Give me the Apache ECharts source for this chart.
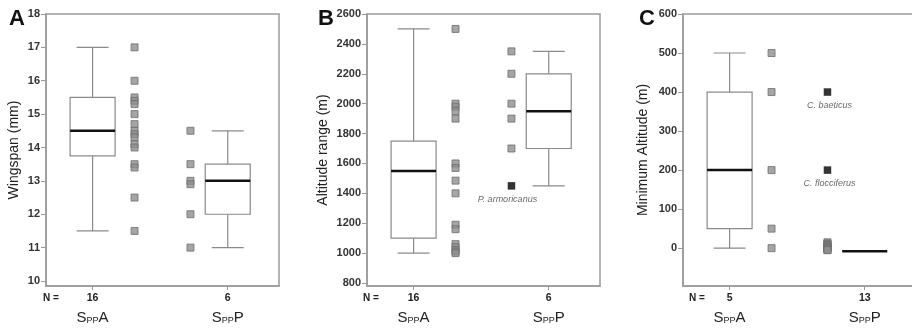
<!DOCTYPE html>
<html>
<head>
<meta charset="utf-8">
<script src="https://cdn.jsdelivr.net/npm/echarts@6/dist/echarts.min.js"></script>
<style>
  html, body { margin: 0; padding: 0; background: #fff; overflow: hidden; }
  #chart { width: 912px; height: 333px; }
</style>
</head>
<body>
<div id="chart"></div>
<script>
// group names (S_PP A / S_PP P)
const groups = ['A', 'P'];

// Panel A - wingspan (mm)
const wingN = ['16', '6'];
const wingBoxA = [11.5, 13.75, 14.5, 15.5, 17];
const wingBoxP = [11, 12, 13, 13.5, 14.5];
const wingPtsA = [17, 16, 15.5, 15.4, 15.3, 15, 14.7, 14.5, 14.4, 14.3, 14.1, 14, 13.5, 13.4, 12.5, 11.5];
const wingPtsP = [14.5, 13.5, 13, 12.9, 12, 11];
const wingTicks = [10, 11, 12, 13, 14, 15, 16, 17, 18];

// Panel B - altitude range (m)
const rangeN = ['16', '6'];
const rangeBoxA = [1000, 1100, 1550, 1750, 2500];
const rangeBoxP = [1450, 1700, 1950, 2200, 2350];
const rangePtsA = [2500, 2000, 1980, 1950, 1900, 1600, 1570, 1485, 1400, 1190, 1160, 1060, 1040, 1020, 1010, 1000];
const rangePtsP = [2350, 2200, 2000, 1900, 1700];
const rangeOutNames = ['P. armoricanus'];
const rangeOutValues = [1450];
const rangeTicks = [800, 1000, 1200, 1400, 1600, 1800, 2000, 2200, 2400, 2600];

// Panel C - minimum altitude (m)
const minN = ['5', '13'];
const minBoxA = [0, 50, 200, 400, 500];
const minBoxP = [-8, -8, -8, -8, -8];
const minPtsA = [500, 400, 200, 50, 0];
const minPtsP = [15, 12, 10, 8, 5, 3, 0, 0, -3, -5, -5];
const minOutNames = ['C. baeticus', 'C. flocciferus'];
const minOutValues = [400, 200];
const minTicks = [0, 100, 200, 300, 400, 500, 600];

// column positions along each x axis (0..100)
const X = { boxA: 20, ptsA: 38, ptsP: 62, boxP: 78 };

const FONT = 'Liberation Sans, Arial, Helvetica, sans-serif';
const GREY = '#8a8a8a';
const AXIS = '#9a9a9a';

const chart = echarts.init(document.getElementById('chart'));

function renderBox(params, api) {
  const x = api.value(0);
  const p = [1, 2, 3, 4, 5].map((i) => api.coord([x, api.value(i)]));
  const cx = p[0][0];
  const half = 22.5;
  const cap = 16;
  const line = { stroke: GREY, lineWidth: 1.2 };
  return {
    type: 'group',
    children: [
      { type: 'line', shape: { x1: cx, y1: p[0][1], x2: cx, y2: p[1][1] }, style: line },
      { type: 'line', shape: { x1: cx, y1: p[3][1], x2: cx, y2: p[4][1] }, style: line },
      { type: 'line', shape: { x1: cx - cap, y1: p[0][1], x2: cx + cap, y2: p[0][1] }, style: line },
      { type: 'line', shape: { x1: cx - cap, y1: p[4][1], x2: cx + cap, y2: p[4][1] }, style: line },
      {
        type: 'rect',
        shape: { x: cx - half, y: p[3][1], width: half * 2, height: p[1][1] - p[3][1] },
        style: { fill: '#fff', stroke: GREY, lineWidth: 1.2 },
      },
      { type: 'line', shape: { x1: cx - half, y1: p[2][1], x2: cx + half, y2: p[2][1] }, style: { stroke: '#111', lineWidth: 2.5 } },
    ],
  };
}

function xAxisFor(idx, nLabels) {
  return {
    type: 'value',
    gridIndex: idx,
    min: 0,
    max: 100,
    splitLine: { show: false },
    axisLine: { show: true, onZero: false, lineStyle: { color: AXIS, width: 1.5 } },
    axisTick: { show: true, customValues: [X.boxA, X.boxP], length: 4, lineStyle: { color: AXIS } },
    axisLabel: {
      customValues: [X.boxA, X.boxP],
      margin: 5,
      formatter: (v) => {
        const i = v === X.boxA ? 0 : 1;
        return '{n|' + nLabels[i] + '}\n{s|S}{p|PP}{s|' + groups[i] + '}';
      },
      rich: {
        n: { fontFamily: FONT, fontSize: 10.5, fontWeight: 'bold', color: '#222', lineHeight: 14 },
        s: { fontFamily: FONT, fontSize: 15, color: '#222', lineHeight: 20, verticalAlign: 'bottom' },
        p: { fontFamily: FONT, fontSize: 9, color: '#222', lineHeight: 20, verticalAlign: 'bottom' },
      },
    },
  };
}

function yAxisFor(idx, name, min, max, ticks, gap) {
  return {
    type: 'value',
    gridIndex: idx,
    min: min,
    max: max,
    name: name,
    nameLocation: 'middle',
    nameRotate: 90,
    nameGap: gap,
    nameTextStyle: { fontFamily: FONT, fontSize: 14, color: '#222' },
    splitLine: { show: false },
    axisLine: { show: true, onZero: false, lineStyle: { color: AXIS, width: 1.5 } },
    axisTick: { show: true, customValues: ticks, length: 5, lineStyle: { color: AXIS } },
    axisLabel: {
      customValues: ticks,
      margin: 6,
      formatter: (v) => String(v),
      fontFamily: FONT,
      fontSize: 11,
      fontWeight: 'bold',
      color: '#333',
    },
  };
}

function greyPts(idx, x, values) {
  return {
    type: 'scatter',
    xAxisIndex: idx,
    yAxisIndex: idx,
    symbol: 'rect',
    symbolSize: 7,
    itemStyle: { color: '#8e8e8e', borderColor: '#6e6e6e', borderWidth: 1 },
    data: values.map((v) => [x, v]),
    z: 3,
  };
}

function blackPts(idx, x, names, values, offsetX) {
  return {
    type: 'scatter',
    xAxisIndex: idx,
    yAxisIndex: idx,
    symbol: 'rect',
    symbolSize: 7.5,
    itemStyle: { color: '#000' },
    label: {
      show: true,
      position: 'bottom',
      distance: 5,
      offset: [offsetX, 0],
      formatter: '{b}',
      fontFamily: FONT,
      fontSize: 9,
      fontStyle: 'italic',
      color: '#444',
    },
    data: names.map((n, i) => ({ name: n, value: [x, values[i]] })),
    z: 4,
  };
}

function boxes(idx, boxA, boxP) {
  return {
    type: 'custom',
    xAxisIndex: idx,
    yAxisIndex: idx,
    renderItem: renderBox,
    data: [[X.boxA].concat(boxA), [X.boxP].concat(boxP)],
    z: 2,
  };
}

const gridBase = { top: 14, height: 272, show: true, borderColor: AXIS, borderWidth: 1.5, outerBoundsMode: 'none' };

const option = {
  animation: false,
  title: [
    { text: 'A', left: 4, top: 3, textStyle: { fontFamily: FONT, fontSize: 22, fontWeight: 'bold', color: '#111' } },
    { text: 'B', left: 313, top: 3, textStyle: { fontFamily: FONT, fontSize: 22, fontWeight: 'bold', color: '#111' } },
    { text: 'C', left: 634, top: 3, textStyle: { fontFamily: FONT, fontSize: 22, fontWeight: 'bold', color: '#111' } },
  ],
  graphic: [
    { type: 'text', left: 43, top: 293, style: { text: 'N =', font: 'bold 10px ' + FONT, fill: '#222' } },
    { type: 'text', left: 363, top: 293, style: { text: 'N =', font: 'bold 10px ' + FONT, fill: '#222' } },
    { type: 'text', left: 689, top: 293, style: { text: 'N =', font: 'bold 10px ' + FONT, fill: '#222' } },
  ],
  grid: [
    Object.assign({ left: 46, width: 233 }, gridBase),
    Object.assign({ left: 367, width: 233 }, gridBase),
    Object.assign({ left: 683, width: 233 }, gridBase),
  ],
  xAxis: [xAxisFor(0, wingN), xAxisFor(1, rangeN), xAxisFor(2, minN)],
  yAxis: [
    yAxisFor(0, 'Wingspan (mm)', 9.85, 18, wingTicks, 25),
    yAxisFor(1, 'Altitude range (m)', 780, 2600, rangeTicks, 37),
    yAxisFor(2, 'Minimum Altitude (m)', -97, 600, minTicks, 33),
  ],
  series: [
    boxes(0, wingBoxA, wingBoxP),
    greyPts(0, X.ptsA, wingPtsA),
    greyPts(0, X.ptsP, wingPtsP),

    boxes(1, rangeBoxA, rangeBoxP),
    greyPts(1, X.ptsA, rangePtsA),
    greyPts(1, X.ptsP, rangePtsP),
    blackPts(1, X.ptsP, rangeOutNames, rangeOutValues, -4),

    boxes(2, minBoxA, minBoxP),
    greyPts(2, X.ptsA, minPtsA),
    greyPts(2, X.ptsP, minPtsP),
    blackPts(2, X.ptsP, minOutNames, minOutValues, 2),
  ],
};

chart.setOption(option);
window.addEventListener('resize', () => chart.resize());
</script>
</body>
</html>
